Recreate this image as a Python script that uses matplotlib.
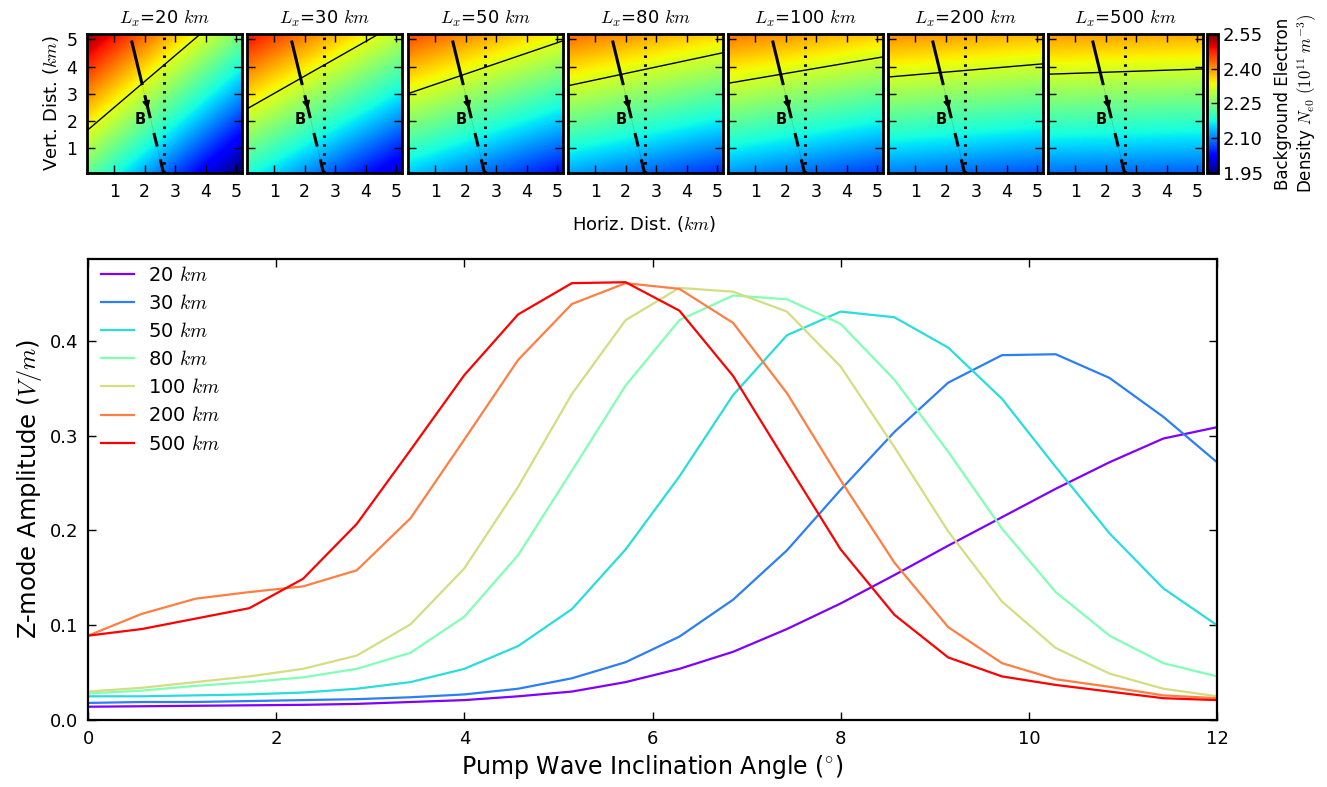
import numpy as np
import matplotlib
matplotlib.use("Agg")
import matplotlib.pyplot as plt
from matplotlib import cm

plt.rcParams['mathtext.fontset'] = 'cm'
plt.rcParams['font.family'] = ['DejaVu Sans']
plt.rcParams['xtick.direction'] = 'in'
plt.rcParams['ytick.direction'] = 'in'
plt.rcParams['xtick.top'] = True
plt.rcParams['ytick.right'] = True
plt.rcParams['lines.scale_dashes'] = False

# ---------------- data ----------------
Lx_values = [20, 30, 50, 80, 100, 200, 500]          # km
legend_labels = ['20 $km$', '30 $km$', '50 $km$', '80 $km$', '100 $km$', '200 $km$', '500 $km$']
angles = np.linspace(0, 12, 22)                        # pump wave inclination angle (deg)

amp_20 = [0.014, 0.0145, 0.015, 0.0155, 0.016, 0.017, 0.019, 0.021, 0.025, 0.030, 0.040,
          0.054, 0.072, 0.096, 0.123, 0.153, 0.184, 0.214, 0.244, 0.272, 0.297, 0.309]
amp_30 = [0.018, 0.019, 0.019, 0.020, 0.021, 0.022, 0.024, 0.027, 0.033, 0.044, 0.061,
          0.088, 0.127, 0.179, 0.243, 0.304, 0.356, 0.385, 0.386, 0.361, 0.320, 0.272]
amp_50 = [0.025, 0.025, 0.026, 0.027, 0.029, 0.033, 0.040, 0.054, 0.078, 0.117, 0.180,
          0.257, 0.343, 0.406, 0.431, 0.425, 0.393, 0.339, 0.267, 0.197, 0.139, 0.100]
amp_80 = [0.028, 0.031, 0.036, 0.040, 0.045, 0.054, 0.071, 0.109, 0.174, 0.263, 0.353,
          0.422, 0.448, 0.444, 0.418, 0.359, 0.283, 0.202, 0.135, 0.089, 0.060, 0.046]
amp_100 = [0.030, 0.034, 0.040, 0.046, 0.054, 0.068, 0.101, 0.160, 0.246, 0.344, 0.422,
           0.456, 0.452, 0.431, 0.373, 0.288, 0.199, 0.125, 0.076, 0.049, 0.033, 0.025]
amp_200 = [0.089, 0.112, 0.128, 0.135, 0.141, 0.158, 0.213, 0.296, 0.380, 0.439, 0.461,
           0.455, 0.419, 0.345, 0.253, 0.166, 0.098, 0.060, 0.043, 0.035, 0.026, 0.023]
amp_500 = [0.089, 0.096, 0.107, 0.118, 0.149, 0.207, 0.285, 0.364, 0.428, 0.461, 0.462,
           0.432, 0.363, 0.271, 0.180, 0.111, 0.066, 0.046, 0.037, 0.030, 0.023, 0.021]
amps = [amp_20, amp_30, amp_50, amp_80, amp_100, amp_200, amp_500]

# density model parameters (10^11 m^-3, km)
N_mid = 2.24          # density at panel centre
grad_z = 0.06         # vertical gradient per km
k_horiz = 19.0        # horizontal gradient scale: grad_x = grad_z * k / Lx
iso_z_ref = [4.05, 4.05, 3.97, 3.90, 3.87, 3.86, 3.82]   # height of isoline at x = 2.62 km
x_field_line = 2.62   # dotted vertical reference line position (km)
b_dip = 0.217         # B-line horizontal shift per km height
cbar_ticks = [1.95, 2.10, 2.25, 2.40, 2.55]

# ---------------- figure ----------------
W, H = 1327, 787
fig = plt.figure(figsize=(W / 100, H / 100), dpi=100)

def fx(px):
    return px / W

def fy(py):
    return 1 - py / H

lefts = [87, 247, 408, 568, 728, 888, 1048]
pw = 155
ptop, pbot = 34, 173
xs = np.linspace(0.1, 5.2, 200)
zs = np.linspace(0.1, 5.2, 200)
XX, ZZ = np.meshgrid(xs, zs)

im = None
for i, (Lx, zr) in enumerate(zip(Lx_values, iso_z_ref)):
    ax = fig.add_axes([fx(lefts[i]), fy(pbot), fx(pw), (pbot - ptop) / H])
    gx = grad_z * k_horiz / Lx
    field = N_mid + grad_z * (ZZ - 2.65) - gx * (XX - 2.65)
    im = ax.imshow(field, extent=[0.1, 5.2, 0.1, 5.2], origin='lower', aspect='auto',
                   cmap='jet', vmin=1.95, vmax=2.55, interpolation='bilinear')
    level = N_mid + grad_z * (zr - 2.65) - gx * (x_field_line - 2.65)
    ax.contour(XX, ZZ, field, levels=[level], colors='k', linewidths=1.0)
    # dotted reference line
    ax.plot([x_field_line, x_field_line], [0.1, 5.2], color='k', lw=2.2,
            linestyle=(0, (1.8, 4.6)))
    # B field line
    zb = np.array([0.1, 4.96])
    xb = x_field_line - b_dip * (zb - 0.1)
    ax.plot(xb[::-1], zb[::-1], color='k', lw=0.6, alpha=0.15)
    ln, = ax.plot(xb[::-1], zb[::-1], color='k', lw=2.2, solid_capstyle='butt')
    ln.set_dashes([33, 7.5, 17, 11, 10, 9.5, 10, 10])
    ln.set_dash_capstyle('butt')
    za, zb2 = 2.85, 2.45
    ax.annotate('', xy=(x_field_line - b_dip * (zb2 - 0.1), zb2),
                xytext=(x_field_line - b_dip * (za - 0.1), za),
                arrowprops=dict(arrowstyle='-|>', color='k', lw=1.2, mutation_scale=11,
                                shrinkA=0, shrinkB=0))
    ax.text(1.85, 2.05, 'B', fontsize=10.5, fontweight='bold', ha='center', va='center')
    ax.set_xlim(0.1, 5.2)
    ax.set_ylim(0.1, 5.2)
    ax.set_xticks([1, 2, 3, 4, 5])
    ax.set_yticks([1, 2, 3, 4, 5])
    ax.tick_params(labelsize=12.5, length=5.5, width=1, pad=7)
    if i > 0:
        ax.set_yticklabels([])
    else:
        ax.set_ylabel('Vert. Dist. ($km$)', fontsize=13)
    for s in ax.spines.values():
        s.set_linewidth(2)
    ax.set_title('$L_x$=%d $km$' % Lx, fontsize=13, pad=7)

cax = fig.add_axes([fx(1207), fy(pbot), fx(11), (pbot - ptop) / H])
cb = fig.colorbar(im, cax=cax, ticks=cbar_ticks)
cb.ax.tick_params(labelsize=13, direction='in', length=5, width=1)
cb.ax.set_yticklabels(['%.2f' % t for t in cbar_ticks])
cb.outline.set_linewidth(2)
cb.set_label('Background Electron\nDensity $N_{e0}$ $(10^{11}\\ m^{-3})$', fontsize=12,
             labelpad=8)

fig.text(fx(644.5), fy(224), 'Horiz. Dist. ($km$)', fontsize=13, ha='center', va='center')

# ---------------- main panel ----------------
ax2 = fig.add_axes([fx(88), fy(720), fx(1129), 461 / H])
colors = cm.rainbow(np.linspace(0, 1, len(Lx_values)))
for a, c, lab in zip(amps, colors, legend_labels):
    ax2.plot(angles, a, color=c, lw=1.6, label=lab)
ax2.set_xlim(0, 12)
ax2.set_ylim(0, 0.4865)
ax2.set_xticks([0, 2, 4, 6, 8, 10, 12])
ax2.set_yticks([0.0, 0.1, 0.2, 0.3, 0.4])
ax2.tick_params(labelsize=13, length=6, width=1, pad=7)
for s in ax2.spines.values():
    s.set_linewidth(1.6)
ax2.set_xlabel('Pump Wave Inclination Angle ($^{\\circ}$)', fontsize=17)
ax2.set_ylabel('Z-mode Amplitude ($V/m$)', fontsize=17.5)
ax2.legend(loc='upper left', bbox_to_anchor=(0.007, 0.996), frameon=False, fontsize=14,
           handlelength=1.7, labelspacing=0.47, borderaxespad=0.1, borderpad=0.15,
           handletextpad=0.75)

fig.savefig('out.png', dpi=100, facecolor='white')
